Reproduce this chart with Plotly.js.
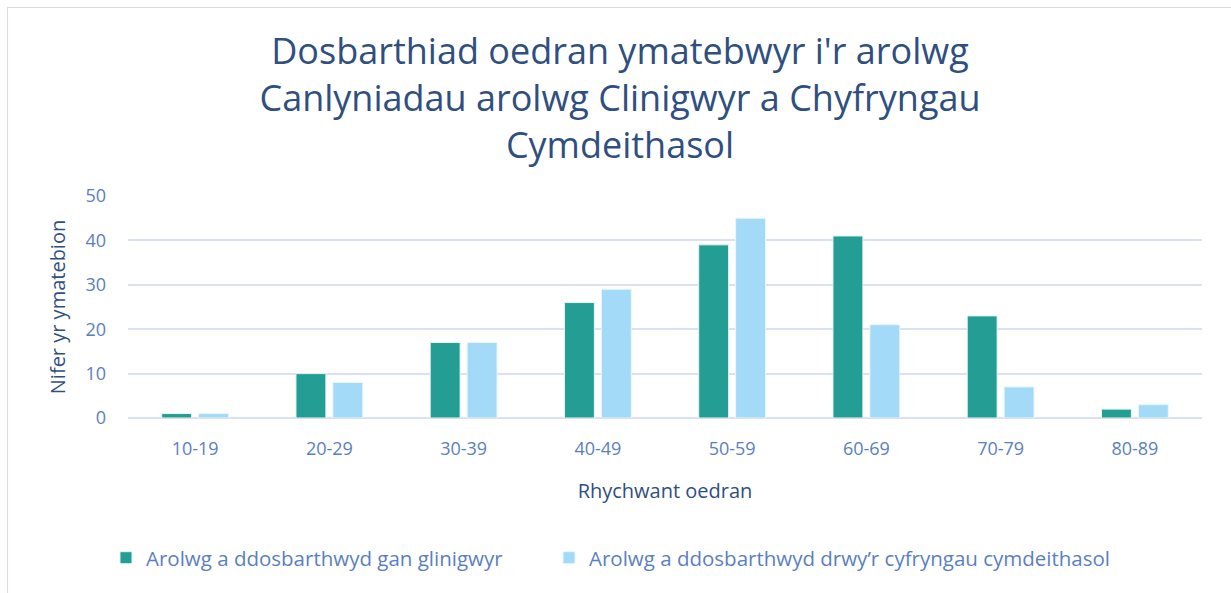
<!DOCTYPE html>
<html>
<head>
<meta charset="utf-8">
<script src="https://cdn.plot.ly/plotly-3.0.1.min.js"></script>
<style>
  html, body { margin: 0; padding: 0; background: #ffffff; }
  #wrap { position: relative; width: 1231px; height: 593px; overflow: hidden; }
  #chart { position: absolute; left: 0; top: 0; width: 1231px; height: 593px; }
  #frame { position: absolute; left: 7px; top: 7px; width: 1240px; height: 600px;
           border: 1px solid #D9DEE6; pointer-events: none; }
</style>
</head>
<body>
<div id="wrap">
  <div id="chart"></div>
  <div id="frame"></div>
</div>
<script>
const categories = ["10-19", "20-29", "30-39", "40-49", "50-59", "60-69", "70-79", "80-89"];
const clinicianValues = [1, 10, 17, 26, 39, 41, 23, 2];
const socialValues = [1, 8, 17, 29, 45, 21, 7, 3];
const seriesNames = ["Arolwg a ddosbarthwyd gan glinigwyr", "Arolwg a ddosbarthwyd drwy\u2019r cyfryngau cymdeithasol"];
const titleLines = ["Dosbarthiad oedran ymatebwyr i'r arolwg", "Canlyniadau arolwg Clinigwyr a Chyfryngau", "Cymdeithasol"];
const yTicks = [0, 10, 20, 30, 40, 50];

const font = "Open Sans, Noto Sans, sans-serif";
const dark = "#2F4F7F";
const mid = "#5A7FC1";

const traces = [
  { type: "bar", name: seriesNames[0], x: categories, y: clinicianValues, legend: "legend",
    marker: { color: "#249E95", line: { color: "#E6F4F3", width: 1 } }, hoverinfo: "x+y" },
  { type: "bar", name: seriesNames[1], x: categories, y: socialValues, legend: "legend2",
    marker: { color: "#A3DAF7", line: { color: "#E8F5FD", width: 1 } }, hoverinfo: "x+y" }
];

const legendBase = {
  orientation: "h", xanchor: "left", y: -0.63, yanchor: "middle",
  font: { family: font, size: 20.5, color: mid },
  itemwidth: 30, bgcolor: "rgba(0,0,0,0)"
};

const layout = {
  width: 1231, height: 593,
  margin: { l: 128, r: 29, t: 196, b: 175 },
  paper_bgcolor: "rgba(0,0,0,0)", plot_bgcolor: "#ffffff",
  barmode: "group", bargap: 0.45, bargroupgap: 0.19,
  font: { family: font, color: mid },
  title: {
    text: titleLines.join("<br>"),
    font: { family: font, size: 36, color: dark },
    x: 620 / 1231, xanchor: "center", xref: "container",
    y: 1 - 64 / 593, yanchor: "middle", yref: "container"
  },
  xaxis: {
    type: "category",
    showgrid: false, zeroline: false, showline: false, ticks: "",
    tickfont: { family: font, size: 18, color: mid },
    ticklabelstandoff: 18,
    title: { text: "Rhychwant oedran", font: { family: font, size: 20, color: dark }, standoff: 24 }
  },
  yaxis: {
    range: [0, 50], tickvals: yTicks, ticktext: yTicks.map(String),
    showgrid: true, gridcolor: "#D9E1F2", gridwidth: 2,
    zeroline: true, zerolinecolor: "#D9E1F2", zerolinewidth: 2,
    showline: false, ticks: "",
    tickfont: { family: font, size: 18, color: mid },
    ticklabelstandoff: 21,
    title: { text: "Nifer yr ymatebion", font: { family: font, size: 20, color: dark }, standoff: 14 }
  },
  showlegend: true,
  legend: Object.assign({}, legendBase, { x: -0.0205 }),
  legend2: Object.assign({}, legendBase, { x: 0.392 })
};

Plotly.newPlot("chart", traces, layout, { displayModeBar: false, staticPlot: true });
</script>
</body>
</html>
